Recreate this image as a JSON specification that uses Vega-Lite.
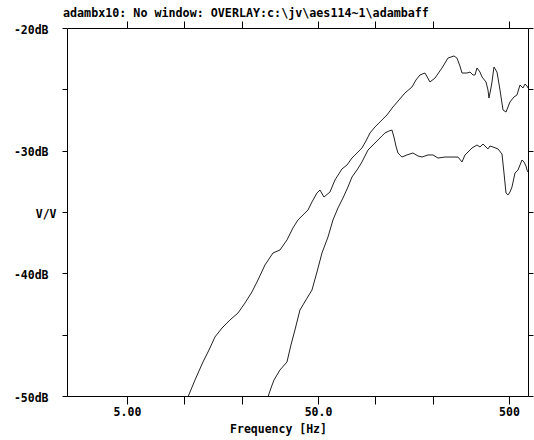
{
  "$schema": "https://vega.github.io/schema/vega-lite/v6.json",
  "width": 461,
  "height": 368,
  "autosize": {"type": "none"},
  "padding": {"left": 67, "top": 28, "right": 6, "bottom": 44},
  "background": "white",
  "config": {
    "view": {"stroke": null},
    "font": "DejaVu Sans Mono",
    "axis": {"grid": false, "domainColor": "black", "domainWidth": 1, "tickColor": "black", "tickWidth": 1, "labelFont": "DejaVu Sans Mono", "labelFontSize": 11.5, "labelFontWeight": "bold", "labelColor": "black", "titleFont": "DejaVu Sans Mono", "titleFontSize": 11.5, "titleFontWeight": "bold", "titleColor": "black"}
  },
  "title": {"text": "adambx10: No window: OVERLAY:c:\\jv\\aes114~1\\adambaff", "anchor": "start", "frame": "group", "dx": -4, "offset": 1, "font": "DejaVu Sans Mono", "fontSize": 11.7, "fontWeight": "bold", "color": "black"},
  "data": {"values": [
    {"s":"A","f":10.43,"db":-50.08},{"s":"A","f":11.35,"db":-48.70},{"s":"A","f":12.50,"db":-47.23},{"s":"A","f":13.44,"db":-46.25},{"s":"A","f":14.44,"db":-45.19},{"s":"A","f":15.72,"db":-44.46},{"s":"A","f":17.31,"db":-43.80},{"s":"A","f":19.07,"db":-43.23},{"s":"A","f":20.74,"db":-42.42},{"s":"A","f":22.55,"db":-41.52},{"s":"A","f":24.26,"db":-40.54},{"s":"A","f":26.39,"db":-39.32},{"s":"A","f":29.07,"db":-38.34},{"s":"A","f":31.62,"db":-38.10},{"s":"A","f":34.40,"db":-37.28},{"s":"A","f":36.98,"db":-36.30},{"s":"A","f":39.27,"db":-35.65},{"s":"A","f":42.75,"db":-35.08},{"s":"A","f":44.32,"db":-34.84},{"s":"A","f":46.51,"db":-34.18},{"s":"A","f":49.40,"db":-33.45},{"s":"A","f":51.22,"db":-33.21},{"s":"A","f":53.75,"db":-33.78},{"s":"A","f":57.78,"db":-33.37},{"s":"A","f":61.37,"db":-32.39},{"s":"A","f":66.77,"db":-31.49},{"s":"A","f":70.92,"db":-31.17},{"s":"A","f":75.33,"db":-30.60},{"s":"A","f":80.00,"db":-30.19},{"s":"A","f":84.97,"db":-29.78},{"s":"A","f":89.17,"db":-29.21},{"s":"A","f":93.57,"db":-28.56},{"s":"A","f":99.37,"db":-28.07},{"s":"A","f":105.54,"db":-27.66},{"s":"A","f":114.82,"db":-27.09},{"s":"A","f":123.43,"db":-26.44},{"s":"A","f":132.68,"db":-25.87},{"s":"A","f":142.65,"db":-25.30},{"s":"A","f":155.24,"db":-24.81},{"s":"A","f":162.90,"db":-24.24},{"s":"A","f":170.98,"db":-23.83},{"s":"A","f":181.60,"db":-23.67},{"s":"A","f":192.88,"db":-24.40},{"s":"A","f":204.85,"db":-24.08},{"s":"A","f":222.88,"db":-23.26},{"s":"A","f":239.59,"db":-22.45},{"s":"A","f":257.54,"db":-22.28},{"s":"A","f":267.02,"db":-22.45},{"s":"A","f":276.86,"db":-23.10},{"s":"A","f":283.76,"db":-23.67},{"s":"A","f":301.38,"db":-23.67},{"s":"A","f":312.48,"db":-23.59},{"s":"A","f":323.98,"db":-23.83},{"s":"A","f":331.87,"db":-23.83},{"s":"A","f":339.96,"db":-23.26},{"s":"A","f":352.47,"db":-23.59},{"s":"A","f":361.06,"db":-23.99},{"s":"A","f":378.88,"db":-24.40},{"s":"A","f":388.11,"db":-25.05},{"s":"A","f":392.81,"db":-25.71},{"s":"A","f":402.38,"db":-24.89},{"s":"A","f":407.26,"db":-24.40},{"s":"A","f":417.19,"db":-23.18},{"s":"A","f":432.63,"db":-23.59},{"s":"A","f":448.55,"db":-25.05},{"s":"A","f":465.05,"db":-26.68},{"s":"A","f":482.25,"db":-26.85},{"s":"A","f":506.04,"db":-26.03},{"s":"A","f":531.03,"db":-25.62},{"s":"A","f":550.61,"db":-25.46},{"s":"A","f":570.88,"db":-24.65},{"s":"A","f":591.89,"db":-24.89},{"s":"A","f":606.35,"db":-24.57},{"s":"A","f":621.17,"db":-24.73},{"s":"A","f":628.70,"db":-24.89},
    {"s":"B","f":27.36,"db":-50.08},{"s":"B","f":28.38,"db":-49.35},{"s":"B","f":29.42,"db":-48.70},{"s":"B","f":31.62,"db":-47.88},{"s":"B","f":34.40,"db":-47.23},{"s":"B","f":36.10,"db":-45.84},{"s":"B","f":37.88,"db":-44.62},{"s":"B","f":40.23,"db":-42.99},{"s":"B","f":43.26,"db":-42.17},{"s":"B","f":46.51,"db":-41.36},{"s":"B","f":49.40,"db":-39.89},{"s":"B","f":52.47,"db":-38.34},{"s":"B","f":56.40,"db":-37.04},{"s":"B","f":59.91,"db":-35.65},{"s":"B","f":63.63,"db":-34.67},{"s":"B","f":67.58,"db":-33.86},{"s":"B","f":71.78,"db":-32.96},{"s":"B","f":75.33,"db":-32.15},{"s":"B","f":80.00,"db":-31.58},{"s":"B","f":84.97,"db":-30.92},{"s":"B","f":91.35,"db":-29.95},{"s":"B","f":97.01,"db":-29.54},{"s":"B","f":103.03,"db":-29.13},{"s":"B","f":108.11,"db":-28.80},{"s":"B","f":112.09,"db":-28.56},{"s":"B","f":117.62,"db":-28.40},{"s":"B","f":121.95,"db":-28.32},{"s":"B","f":124.93,"db":-28.89},{"s":"B","f":127.97,"db":-29.62},{"s":"B","f":131.09,"db":-30.19},{"s":"B","f":137.56,"db":-30.52},{"s":"B","f":146.13,"db":-30.35},{"s":"B","f":151.54,"db":-30.27},{"s":"B","f":157.12,"db":-30.19},{"s":"B","f":166.87,"db":-30.43},{"s":"B","f":175.15,"db":-30.52},{"s":"B","f":188.29,"db":-30.35},{"s":"B","f":199.98,"db":-30.35},{"s":"B","f":212.39,"db":-30.60},{"s":"B","f":231.09,"db":-30.52},{"s":"B","f":251.41,"db":-30.52},{"s":"B","f":270.26,"db":-30.52},{"s":"B","f":283.76,"db":-30.92},{"s":"B","f":294.20,"db":-30.35},{"s":"B","f":308.74,"db":-30.03},{"s":"B","f":320.09,"db":-29.78},{"s":"B","f":339.96,"db":-29.54},{"s":"B","f":352.47,"db":-29.70},{"s":"B","f":365.43,"db":-29.46},{"s":"B","f":374.34,"db":-29.62},{"s":"B","f":388.11,"db":-29.86},{"s":"B","f":397.57,"db":-29.62},{"s":"B","f":412.20,"db":-29.70},{"s":"B","f":437.88,"db":-29.86},{"s":"B","f":459.48,"db":-30.27},{"s":"B","f":470.68,"db":-31.82},{"s":"B","f":482.25,"db":-33.45},{"s":"B","f":494.01,"db":-33.61},{"s":"B","f":506.04,"db":-33.37},{"s":"B","f":518.39,"db":-32.96},{"s":"B","f":537.48,"db":-31.82},{"s":"B","f":557.29,"db":-31.58},{"s":"B","f":584.80,"db":-30.76},{"s":"B","f":599.07,"db":-30.92},{"s":"B","f":613.72,"db":-31.25},{"s":"B","f":621.17,"db":-31.58},{"s":"B","f":628.70,"db":-31.74}
  ]},
  "layer": [
    {
      "transform": [{"filter": "datum.s == 'A'"}],
      "mark": {"type": "line", "color": "#222", "strokeWidth": 1, "clip": true},
      "encoding": {
        "x": {"field": "f", "type": "quantitative", "scale": {"type": "log", "domain": [2.427, 628.7], "nice": false, "zero": false},
          "axis": {"orient": "bottom", "values": [5, 10, 20, 50, 100, 200, 500], "tickSize": 8, "labelPadding": 2, "labelExpr": "datum.value == 5 ? '5.00' : datum.value == 50 ? '50.0' : datum.value == 500 ? '500' : ''", "labelFlush": false, "labelOverlap": false, "title": "Frequency [Hz]", "titlePadding": 6, "titleX": 211}},
        "y": {"field": "db", "type": "quantitative", "scale": {"domain": [-50, -20], "nice": false, "zero": false},
          "axis": {"orient": "left", "values": [-50, -45, -40, -35, -30, -25, -20], "tickSize": 5, "labelPadding": {"condition": {"test": "datum.value == -35", "value": 6}, "value": 14}, "labelExpr": "datum.value == -35 ? 'V/V' : (datum.value % 10 == 0 ? datum.value + 'dB' : '')", "labelFlush": false, "labelOverlap": false, "labelBaseline": "middle", "labelOffset": 2, "title": null}}
      }
    },
    {
      "transform": [{"filter": "datum.s == 'B'"}],
      "mark": {"type": "line", "color": "#222", "strokeWidth": 1, "clip": true},
      "encoding": {
        "x": {"field": "f", "type": "quantitative",
          "axis": {"orient": "top", "values": [5, 10, 20, 50, 100, 200, 500], "tickSize": 7, "labels": false, "title": null}},
        "y": {"field": "db", "type": "quantitative",
          "axis": {"orient": "right", "values": [-50, -45, -40, -35, -30, -25, -20], "tickSize": 5, "labels": false, "title": null}}
      }
    }
  ],
  "resolve": {"axis": {"x": "independent", "y": "independent"}}
}
